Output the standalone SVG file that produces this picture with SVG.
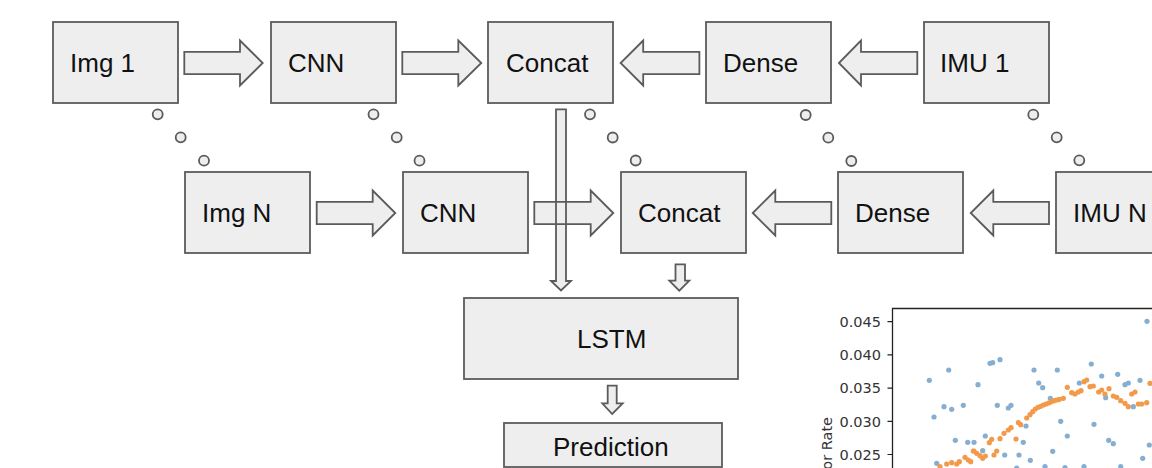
<svg xmlns="http://www.w3.org/2000/svg" width="1152" height="468" viewBox="0 0 1152 468">
<style>
.box{fill:#eeeeee;stroke:#5b5b5b;stroke-width:1.8}
.arr{fill:#eeeeee;stroke:#5b5b5b;stroke-width:1.8;stroke-linejoin:miter}
.lbl{font-family:"Liberation Sans",Arial,sans-serif;font-size:26px;fill:#111}
.dot{fill:#eeeeee;stroke:#5b5b5b;stroke-width:1.8}
.tick{font-family:"DejaVu Sans",sans-serif;font-size:14.5px;fill:#333}
.b{fill:#86aed0}
.o{fill:#f29a4a}
</style>
<rect width="1152" height="468" fill="#ffffff"/>
<g id="connectors">
<polygon class="arr" points="184.3,51.8 240,51.8 240,40.5 262.7,63 240,85.5 240,74.2 184.3,74.2"/>
<polygon class="arr" points="402.3,51.8 458.3,51.8 458.3,40.5 481.3,63 458.3,85.5 458.3,74.2 402.3,74.2"/>
<polygon class="arr" points="699.4,51.8 643.2,51.8 643.2,40.5 620.6,63 643.2,85.5 643.2,74.2 699.4,74.2"/>
<polygon class="arr" points="917.3,51.8 861,51.8 861,40.5 838.9,63 861,85.5 861,74.2 917.3,74.2"/>
<polygon class="arr" points="316.7,201.8 372.7,201.8 372.7,190.5 395.3,213 372.7,235.5 372.7,224.2 316.7,224.2"/>
<polygon class="arr" points="831.3,201.8 775.3,201.8 775.3,190.5 752.7,213 775.3,235.5 775.3,224.2 831.3,224.2"/>
<polygon class="arr" points="1049,201.8 993.3,201.8 993.3,190.5 970.7,213 993.3,235.5 993.3,224.2 1049,224.2"/>
<polygon class="arr" points="556,109.3 566,109.3 566,281 571,281 561,290.5 551,281 556,281"/>
<polygon class="arr" points="534.3,201.8 590.7,201.8 590.7,190.5 613.3,213 590.7,235.5 590.7,224.2 534.3,224.2"/>
<line x1="556" y1="201.8" x2="556" y2="224.2" stroke="#5b5b5b" stroke-width="1.8"/>
<line x1="566" y1="201.8" x2="566" y2="224.2" stroke="#5b5b5b" stroke-width="1.8"/>
<polygon class="arr" points="675.5,264.3 685,264.3 685,280.7 689.3,280.7 679.3,290.7 669.3,280.7 675.5,280.7"/>
<polygon class="arr" points="607.7,385.7 616.7,385.7 616.7,403.3 622.7,403.3 612.2,414 602.3,403.3 607.7,403.3"/>
</g>
<g id="ellipses">
<circle class="dot" cx="157.7" cy="114.3" r="5"/>
<circle class="dot" cx="180.7" cy="137.3" r="5"/>
<circle class="dot" cx="204" cy="160.7" r="5"/>
<circle class="dot" cx="373.5" cy="114.3" r="5"/>
<circle class="dot" cx="396.7" cy="137.3" r="5"/>
<circle class="dot" cx="419.5" cy="160.7" r="5"/>
<circle class="dot" cx="590" cy="114.3" r="5"/>
<circle class="dot" cx="612.7" cy="137.5" r="5"/>
<circle class="dot" cx="635.7" cy="160.5" r="5"/>
<circle class="dot" cx="805.7" cy="115" r="5"/>
<circle class="dot" cx="828.3" cy="137.7" r="5"/>
<circle class="dot" cx="851.3" cy="161" r="5"/>
<circle class="dot" cx="1033.3" cy="114.7" r="5"/>
<circle class="dot" cx="1056.7" cy="137.3" r="5"/>
<circle class="dot" cx="1079.3" cy="160.3" r="5"/>
</g>
<g id="img1"><rect class="box" x="53" y="22" width="125" height="81"/><text class="lbl" x="70" y="72">Img 1</text></g>
<g id="cnn1"><rect class="box" x="271" y="22" width="125" height="81"/><text class="lbl" x="288" y="72">CNN</text></g>
<g id="concat1"><rect class="box" x="488" y="22" width="125" height="81"/><text class="lbl" x="506" y="72">Concat</text></g>
<g id="dense1"><rect class="box" x="706" y="22" width="125" height="81"/><text class="lbl" x="723" y="72">Dense</text></g>
<g id="imu1"><rect class="box" x="924" y="22" width="125" height="81"/><text class="lbl" x="940" y="72">IMU 1</text></g>
<g id="imgN"><rect class="box" x="185" y="172" width="125" height="81"/><text class="lbl" x="202" y="222">Img N</text></g>
<g id="cnnN"><rect class="box" x="403" y="172" width="125" height="81"/><text class="lbl" x="420" y="222">CNN</text></g>
<g id="concatN"><rect class="box" x="621" y="172" width="125" height="81"/><text class="lbl" x="638" y="222">Concat</text></g>
<g id="denseN"><rect class="box" x="838" y="172" width="125" height="81"/><text class="lbl" x="855" y="222">Dense</text></g>
<g id="imuN"><rect class="box" x="1056" y="172" width="125" height="81"/><text class="lbl" x="1073" y="222">IMU N</text></g>
<g id="lstm"><rect class="box" x="464" y="298" width="274" height="81"/><text class="lbl" x="577" y="348">LSTM</text></g>
<g id="prediction"><rect class="box" x="504" y="423" width="218" height="44"/><text class="lbl" x="553" y="456">Prediction</text></g>
<g id="plot">
<g class="b">
<circle cx="929.3" cy="380.3" r="2.6"/><circle cx="934" cy="417" r="2.6"/><circle cx="948.7" cy="370" r="2.6"/><circle cx="944" cy="406.7" r="2.6"/><circle cx="951.7" cy="409.3" r="2.6"/><circle cx="963.3" cy="405.3" r="2.6"/><circle cx="978" cy="384.7" r="2.6"/><circle cx="955.3" cy="440.3" r="2.6"/><circle cx="967.7" cy="442.3" r="2.6"/><circle cx="974" cy="442.3" r="2.6"/><circle cx="985.3" cy="436" r="2.6"/><circle cx="990" cy="363.3" r="2.6"/><circle cx="992.7" cy="362.7" r="2.6"/><circle cx="1000" cy="359.7" r="2.6"/><circle cx="997.3" cy="405.3" r="2.6"/><circle cx="1008.3" cy="408" r="2.6"/><circle cx="1011" cy="405.3" r="2.6"/><circle cx="1004.7" cy="455" r="2.6"/><circle cx="1019" cy="455" r="2.6"/><circle cx="1023.3" cy="442.3" r="2.6"/><circle cx="1026" cy="426" r="2.6"/><circle cx="1030.3" cy="460.3" r="2.6"/><circle cx="1034" cy="370" r="2.6"/><circle cx="1038.7" cy="383" r="2.6"/><circle cx="1042.7" cy="387.7" r="2.6"/><circle cx="1050.3" cy="398.3" r="2.6"/><circle cx="1057.3" cy="370" r="2.6"/><circle cx="1052.7" cy="451.3" r="2.6"/><circle cx="1060.7" cy="421.3" r="2.6"/><circle cx="1067.3" cy="436" r="2.6"/><circle cx="1079.3" cy="383" r="2.6"/><circle cx="1091.3" cy="364" r="2.6"/><circle cx="1094" cy="424.3" r="2.6"/><circle cx="1101.7" cy="376" r="2.6"/><circle cx="1105.7" cy="397.7" r="2.6"/><circle cx="1108.7" cy="440.3" r="2.6"/><circle cx="1113.3" cy="443.7" r="2.6"/><circle cx="1117.7" cy="374.3" r="2.6"/><circle cx="1125" cy="384.7" r="2.6"/><circle cx="1128.3" cy="383" r="2.6"/><circle cx="1133.3" cy="406.7" r="2.6"/><circle cx="1140" cy="380.3" r="2.6"/><circle cx="1147" cy="321.3" r="2.6"/><circle cx="1142.7" cy="458.3" r="2.6"/><circle cx="1149.3" cy="445" r="2.6"/><circle cx="936.7" cy="463.3" r="2.6"/><circle cx="1016.7" cy="468" r="2.6"/><circle cx="1045" cy="466.7" r="2.6"/><circle cx="1065" cy="467.7" r="2.6"/><circle cx="1084" cy="466.7" r="2.6"/><circle cx="1120.7" cy="466.7" r="2.6"/><circle cx="982.7" cy="450.7" r="2.6"/>
</g>
<g class="o">
<circle cx="940" cy="466.7" r="2.6"/><circle cx="946.7" cy="464" r="2.6"/><circle cx="951.7" cy="462.7" r="2.6"/><circle cx="956.7" cy="464" r="2.6"/><circle cx="959.3" cy="461.7" r="2.6"/><circle cx="965" cy="457.3" r="2.6"/><circle cx="968.3" cy="460" r="2.6"/><circle cx="970.7" cy="461.7" r="2.6"/><circle cx="973.3" cy="451" r="2.6"/><circle cx="976.7" cy="453.3" r="2.6"/><circle cx="980" cy="455.7" r="2.6"/><circle cx="982.7" cy="458.3" r="2.6"/><circle cx="985.3" cy="456" r="2.6"/><circle cx="989.3" cy="442.7" r="2.6"/><circle cx="991.7" cy="439.3" r="2.6"/><circle cx="996.7" cy="451" r="2.6"/><circle cx="1000" cy="438.7" r="2.6"/><circle cx="1004" cy="433.3" r="2.6"/><circle cx="1008.3" cy="430" r="2.6"/><circle cx="1011" cy="427.7" r="2.6"/><circle cx="1016" cy="439" r="2.6"/><circle cx="1018.3" cy="422.7" r="2.6"/><circle cx="1020.7" cy="424.7" r="2.6"/><circle cx="1026.7" cy="418" r="2.6"/><circle cx="1030" cy="414.7" r="2.6"/><circle cx="1032.7" cy="411.7" r="2.6"/><circle cx="1035.3" cy="409" r="2.6"/><circle cx="1038" cy="407.3" r="2.6"/><circle cx="1040.7" cy="406.3" r="2.6"/><circle cx="1043.3" cy="405" r="2.6"/><circle cx="1046" cy="404" r="2.6"/><circle cx="1048.7" cy="403" r="2.6"/><circle cx="1051.3" cy="401.7" r="2.6"/><circle cx="1054" cy="400.7" r="2.6"/><circle cx="1056.7" cy="400" r="2.6"/><circle cx="1059.3" cy="399.3" r="2.6"/><circle cx="1063.3" cy="398.3" r="2.6"/><circle cx="1067.3" cy="387.3" r="2.6"/><circle cx="1071.7" cy="392.7" r="2.6"/><circle cx="1075" cy="394" r="2.6"/><circle cx="1078.3" cy="392" r="2.6"/><circle cx="1081" cy="390.7" r="2.6"/><circle cx="1084" cy="381.7" r="2.6"/><circle cx="1086.7" cy="380" r="2.6"/><circle cx="1090" cy="386.7" r="2.6"/><circle cx="1093.3" cy="386" r="2.6"/><circle cx="1098.7" cy="392" r="2.6"/><circle cx="1101.7" cy="390" r="2.6"/><circle cx="1105" cy="394" r="2.6"/><circle cx="1109" cy="388.7" r="2.6"/><circle cx="1113.3" cy="396" r="2.6"/><circle cx="1116.7" cy="397.3" r="2.6"/><circle cx="1120.7" cy="400.7" r="2.6"/><circle cx="1125" cy="403.3" r="2.6"/><circle cx="1128.3" cy="406.7" r="2.6"/><circle cx="1131.7" cy="394" r="2.6"/><circle cx="1135" cy="392" r="2.6"/><circle cx="1138.3" cy="404" r="2.6"/><circle cx="1141.7" cy="404" r="2.6"/><circle cx="1146.7" cy="402.7" r="2.6"/><circle cx="1150" cy="383.3" r="2.6"/><circle cx="974" cy="451" r="2.6"/><circle cx="994" cy="455" r="2.6"/>
</g>
<path d="M892.5,468 V308.5 H1152" fill="none" stroke="#222" stroke-width="1.3"/>
<path d="M887.5,321.7 H892.5 M887.5,354.9 H892.5 M887.5,388.1 H892.5 M887.5,421.3 H892.5 M887.5,454.5 H892.5" stroke="#222" stroke-width="1.2"/>
<text class="tick" x="881" y="326.9" text-anchor="end">0.045</text>
<text class="tick" x="881" y="360.1" text-anchor="end">0.040</text>
<text class="tick" x="881" y="393.3" text-anchor="end">0.035</text>
<text class="tick" x="881" y="426.5" text-anchor="end">0.030</text>
<text class="tick" x="881" y="459.7" text-anchor="end">0.025</text>
<text class="tick" transform="translate(832,417) rotate(-90)" text-anchor="end">or Rate</text>
</g>
</svg>
